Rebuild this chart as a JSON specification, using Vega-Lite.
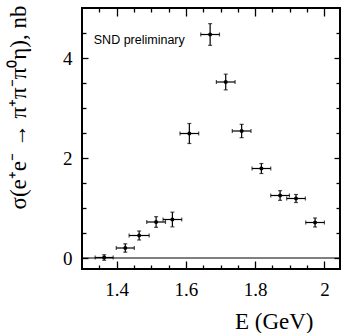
{
  "$schema": "https://vega.github.io/schema/vega-lite/v6.json",
  "autosize": "none",
  "width": 258,
  "height": 261,
  "padding": {"left": 82, "top": 8, "right": 1, "bottom": 64},
  "background": "white",
  "config": {
    "font": "Liberation Serif",
    "view": {"stroke": "black", "strokeWidth": 2},
    "axis": {
      "domain": false,
      "grid": false,
      "labelFont": "Liberation Serif",
      "titleFont": "Liberation Serif",
      "labelColor": "black",
      "titleColor": "black",
      "tickColor": "black",
      "titleFontWeight": "normal",
      "tickWidth": 1.3
    }
  },
  "datasets": {
    "pts": [
      {"E": 1.364, "sigma": 0.01, "dE": 0.026, "dS": 0.055},
      {"E": 1.425, "sigma": 0.20, "dE": 0.026, "dS": 0.083},
      {"E": 1.465, "sigma": 0.45, "dE": 0.029, "dS": 0.09},
      {"E": 1.514, "sigma": 0.72, "dE": 0.027, "dS": 0.107},
      {"E": 1.561, "sigma": 0.77, "dE": 0.027, "dS": 0.147},
      {"E": 1.610, "sigma": 2.49, "dE": 0.027, "dS": 0.2},
      {"E": 1.670, "sigma": 4.47, "dE": 0.027, "dS": 0.217},
      {"E": 1.715, "sigma": 3.52, "dE": 0.027, "dS": 0.157},
      {"E": 1.761, "sigma": 2.54, "dE": 0.027, "dS": 0.133},
      {"E": 1.818, "sigma": 1.79, "dE": 0.027, "dS": 0.1},
      {"E": 1.872, "sigma": 1.25, "dE": 0.027, "dS": 0.097},
      {"E": 1.918, "sigma": 1.19, "dE": 0.027, "dS": 0.08},
      {"E": 1.973, "sigma": 0.71, "dE": 0.027, "dS": 0.09}
    ],
    "zero": [{"sigma": 0}],
    "note": [{"label": "SND preliminary"}]
  },
  "layer": [
    {
      "data": {"name": "zero"},
      "mark": {"type": "rule", "color": "black", "strokeWidth": 1},
      "encoding": {
        "y": {
          "field": "sigma", "type": "quantitative",
          "scale": {"domain": [-0.22, 5], "nice": false, "zero": false},
          "axis": {
            "orient": "left", "values": [0, 2, 4], "format": "d",
            "tickSize": -6, "labelFont": "Liberation Serif", "labelFontSize": 19, "labelPadding": 16,
            "title": "σ(e⁺e⁻ → π⁺π⁻π⁰η), nb", "titleFont": "Liberation Serif",
            "titleFontSize": 23, "titleAngle": -90, "titleAlign": "right",
            "titleBaseline": "alphabetic", "titleX": -57, "titleY": -3
          }
        }
      }
    },
    {
      "data": {"name": "pts"},
      "mark": {"type": "errorbar", "color": "black", "ticks": {"size": 4, "thickness": 1.2, "color": "black"}, "rule": {"strokeWidth": 1.2}},
      "encoding": {
        "x": {
          "field": "E", "type": "quantitative",
          "scale": {"domain": [1.30, 2.045], "nice": false, "zero": false},
          "axis": {
            "orient": "bottom", "values": [1.4, 1.6, 1.8, 2.0], "format": ".2~f",
            "tickSize": -8, "labelFont": "Liberation Serif", "labelFontSize": 19, "labelPadding": 19,
            "title": "E (GeV)", "titleFont": "Liberation Serif", "titleFontSize": 23, "titleAlign": "right",
            "titleBaseline": "alphabetic", "titleX": 231, "titleY": 59
          }
        },
        "y": {
          "field": "sigma", "type": "quantitative",
          "scale": {"domain": [-0.22, 5], "nice": false, "zero": false},
          "axis": {
            "orient": "left", "values": [0.5, 1, 1.5, 2.5, 3, 3.5, 4.5],
            "tickSize": -4, "labels": false, "title": null
          }
        },
        "yError": {"field": "dS"}
      }
    },
    {
      "data": {"name": "pts"},
      "mark": {"type": "errorbar", "color": "black", "ticks": {"size": 4, "thickness": 1.2, "color": "black"}, "rule": {"strokeWidth": 1.2}},
      "encoding": {
        "x": {
          "field": "E", "type": "quantitative",
          "scale": {"domain": [1.30, 2.045], "nice": false, "zero": false},
          "axis": {
            "orient": "bottom",
            "values": [1.35, 1.45, 1.5, 1.55, 1.65, 1.7, 1.75, 1.85, 1.9, 1.95],
            "tickSize": -4, "labels": false, "title": null
          }
        },
        "xError": {"field": "dE"},
        "y": {
          "field": "sigma", "type": "quantitative",
          "scale": {"domain": [-0.22, 5], "nice": false, "zero": false},
          "axis": {
            "orient": "right", "values": [0, 2, 4],
            "tickSize": -6, "labels": false, "title": null
          }
        }
      }
    },
    {
      "data": {"name": "pts"},
      "mark": {"type": "point", "filled": true, "color": "black", "opacity": 1, "size": 16},
      "encoding": {
        "x": {
          "field": "E", "type": "quantitative",
          "scale": {"domain": [1.30, 2.045], "nice": false, "zero": false},
          "axis": {
            "orient": "top", "values": [1.4, 1.6, 1.8, 2.0],
            "tickSize": -8, "labels": false, "title": null
          }
        },
        "y": {
          "field": "sigma", "type": "quantitative",
          "scale": {"domain": [-0.22, 5], "nice": false, "zero": false},
          "axis": {
            "orient": "right", "values": [0.5, 1, 1.5, 2.5, 3, 3.5, 4.5],
            "tickSize": -4, "labels": false, "title": null
          }
        }
      }
    },
    {
      "data": {"name": "note"},
      "mark": {"type": "text", "font": "Liberation Sans", "fontSize": 12.5, "align": "left", "baseline": "alphabetic", "color": "black"},
      "encoding": {
        "text": {"field": "label"},
        "x": {
          "datum": 1.334, "type": "quantitative",
          "scale": {"domain": [1.30, 2.045], "nice": false, "zero": false},
          "axis": {
            "orient": "top",
            "values": [1.35, 1.45, 1.5, 1.55, 1.65, 1.7, 1.75, 1.85, 1.9, 1.95],
            "tickSize": -4, "labels": false, "title": null
          }
        },
        "y": {
          "datum": 4.29, "type": "quantitative",
          "scale": {"domain": [-0.22, 5], "nice": false, "zero": false},
          "axis": null
        }
      }
    }
  ],
  "resolve": {"axis": {"x": "independent", "y": "independent"}}
}
